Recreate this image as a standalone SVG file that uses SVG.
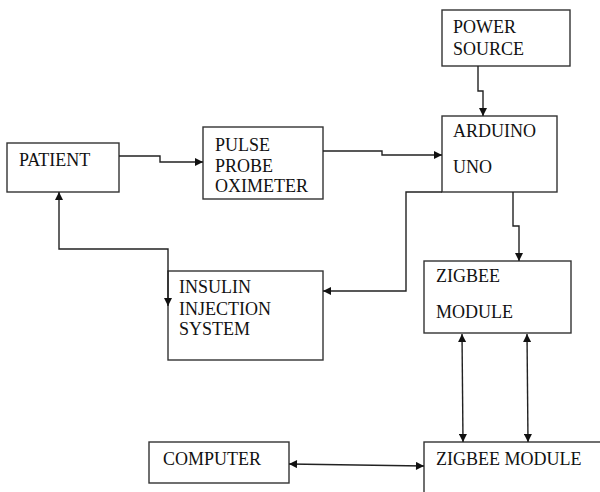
<svg xmlns="http://www.w3.org/2000/svg" width="600" height="492" viewBox="0 0 600 492">
<style>
.box{fill:#fff;stroke:#333;stroke-width:1.4}
.lbl{font-family:"Liberation Serif","Times New Roman",serif;font-size:18px;fill:#111}
.con{fill:none;stroke:#222;stroke-width:1.4}
</style>
<defs>
<marker id="ah" viewBox="0 0 10 10" refX="10" refY="5" markerWidth="9" markerHeight="8" markerUnits="userSpaceOnUse" orient="auto-start-reverse">
<path d="M0,0 L10,5 L0,10 Z" fill="#111"/>
</marker>
</defs>
<rect width="600" height="492" fill="#fff"/>
<g id="patient"><rect class="box" x="7" y="143" width="112" height="49"/><text class="lbl" x="19" y="166">PATIENT</text></g>
<g id="pulse"><rect class="box" x="203" y="127" width="120" height="72"/><text class="lbl" x="215" y="151">PULSE</text><text class="lbl" x="215" y="172">PROBE</text><text class="lbl" x="215" y="192">OXIMETER</text></g>
<g id="power"><rect class="box" x="442" y="10" width="128" height="56"/><text class="lbl" x="453" y="33">POWER</text><text class="lbl" x="453" y="55">SOURCE</text></g>
<g id="arduino"><rect class="box" x="442" y="116" width="115" height="76"/><text class="lbl" x="453" y="137">ARDUINO</text><text class="lbl" x="453" y="173">UNO</text></g>
<g id="insulin"><rect class="box" x="168" y="271" width="155" height="89"/><text class="lbl" x="179" y="293">INSULIN</text><text class="lbl" x="179" y="315">INJECTION</text><text class="lbl" x="179" y="335">SYSTEM</text></g>
<g id="zigbee1"><rect class="box" x="424" y="261" width="147" height="72"/><text class="lbl" x="436" y="282">ZIGBEE</text><text class="lbl" x="436" y="318">MODULE</text></g>
<g id="computer"><rect class="box" x="149" y="442" width="140" height="41"/><text class="lbl" x="163" y="465">COMPUTER</text></g>
<g id="zigbee2"><rect class="box" x="424" y="442" width="200" height="70"/><text class="lbl" x="436" y="465">ZIGBEE MODULE</text></g>
<g id="connectors">
<path class="con" d="M119,156 H160 V162 H203" marker-end="url(#ah)"/>
<path class="con" d="M323,151 H382 V155 H442" marker-end="url(#ah)"/>
<path class="con" d="M478,66 V91 H483 V116" marker-end="url(#ah)"/>
<path class="con" d="M442,192 H406 V291 H323" marker-end="url(#ah)"/>
<path class="con" d="M513,192 V226 H519 V261" marker-end="url(#ah)"/>
<path class="con" d="M59,192 V249 H168 V306" marker-start="url(#ah)" marker-end="url(#ah)"/>
<path class="con" d="M462,334 L463,442" marker-start="url(#ah)" marker-end="url(#ah)"/>
<path class="con" d="M527,334 L528,442" marker-start="url(#ah)" marker-end="url(#ah)"/>
<path class="con" d="M289,464 L424,466" marker-start="url(#ah)" marker-end="url(#ah)"/>
</g>
</svg>
